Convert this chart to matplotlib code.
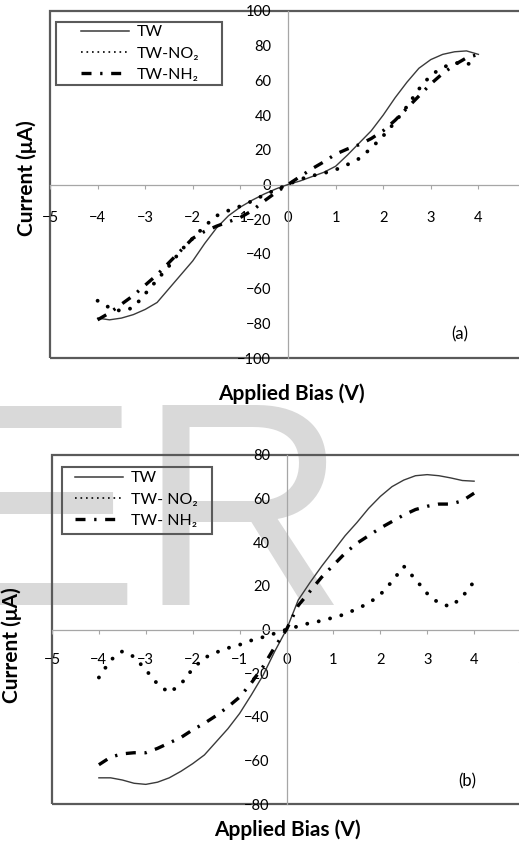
import matplotlib
matplotlib.use('Agg')
import matplotlib.pyplot as plt
from matplotlib.patches import Rectangle
from matplotlib.lines import Line2D

plt.rcParams['font.family'] = ['Lato', 'DejaVu Sans']

# bias points (V), shared by all curves
bias = [-4.0, -3.75, -3.5, -3.25, -3.0, -2.75, -2.5, -2.25, -2.0, -1.75, -1.5,
        -1.25, -1.0, -0.75, -0.5, -0.25, 0.0, 0.25, 0.5, 0.75, 1.0, 1.25, 1.5,
        1.75, 2.0, 2.25, 2.5, 2.75, 3.0, 3.25, 3.5, 3.75, 4.0]

# panel (a) currents (uA)
tw_a = [-77, -78, -77, -75, -72, -68, -60, -52, -44, -34, -25, -18, -13, -9, -5.5, -2.5,
        0, 2, 4.5, 7, 10.5, 17, 24, 31, 40, 50, 59, 67, 72, 75, 76.5, 77, 75]
no2_a = [-67, -71, -73, -71, -63, -55, -47, -38, -31, -24, -18, -15, -12.5, -9.5, -6, -3,
         0, 3, 5, 6.5, 8.5, 11.5, 15, 21, 28, 36, 45, 55, 63, 67.5, 70, 70, 67.5]
nh2_a = [-78, -74, -69, -64, -58, -52, -45, -38, -31, -27, -24, -21.5, -19, -15, -9.5, -4.5,
         0, 4.5, 9, 13, 17.5, 20.5, 23, 26.5, 31, 37, 44, 51, 58, 64, 69, 73, 75]

# panel (b) currents (uA)
tw_b = [-68, -68, -69, -70.5, -71, -70, -68, -65, -61.5, -57.5, -51.5, -45.5, -38.5, -30, -21, -10,
        0, 13.5, 21.5, 29, 36, 43, 49, 55.5, 61, 65.5, 68.5, 70.5, 71, 70.5, 69.5, 68.3, 68]
no2_b = [-22, -14, -10, -12.5, -18.5, -25, -29, -25, -18, -13, -10.5, -8.5, -7, -5, -3.5, -1.8,
         0, 1.5, 3, 4, 5.5, 7, 9.5, 12, 16, 22, 29, 23, 16.5, 12, 10.5, 15, 22]
nh2_b = [-62, -58.5, -57, -56.5, -56.5, -54.5, -52, -49.5, -46, -43, -39.5, -35.5, -31, -24.5, -17, -8,
         0, 11, 17.5, 24, 29.5, 35, 39.5, 43, 46.5, 49.5, 52.5, 55, 56.5, 57.5, 57.5, 59, 62.5]

xticks_a = [-5, -4, -3, -2, -1, 0, 1, 2, 3, 4]
xticks_b = [-5, -4, -3, -2, -1, 0, 1, 2, 3, 4, 5]
yticks_a = [-100, -80, -60, -40, -20, 0, 20, 40, 60, 80, 100]
yticks_b = [-80, -60, -40, -20, 0, 20, 40, 60, 80]

W, H = 519, 842
fig = plt.figure(figsize=(W / 100, H / 100), dpi=100)


def box(l, t, r, b):
    return [l / W, 1 - b / H, (r - l) / W, (b - t) / H]


# watermark behind everything
fig.text(-54 / W, 1 - 605 / H, 'ER', fontsize=208, color='#d9d9d9',
         family='Liberation Sans', ha='left', va='baseline', zorder=-1)

FRAME = '#5a5a5a'
ZERO = '#a6a6a6'
DASHDOT = (0, (3, 2.6, 0.7, 2.6))


def setup(ax, ylim, xticks, yticks, xpad):
    ax.set_facecolor('none')
    ax.set_xlim(-5, 5)
    ax.set_ylim(*ylim)
    ax.spines['top'].set_visible(False)
    ax.spines['right'].set_visible(False)
    ax.spines['left'].set_position(('data', 0))
    ax.spines['bottom'].set_position(('data', 0))
    for s in ['left', 'bottom']:
        ax.spines[s].set_color(ZERO)
        ax.spines[s].set_linewidth(0.9)
    ax.set_xticks(xticks)
    ax.set_yticks(yticks)
    ax.tick_params(axis='x', length=3, color=ZERO, pad=xpad, labelsize=10.5)
    ax.tick_params(axis='y', length=0, pad=12, labelsize=10.5)
    ax.add_patch(Rectangle((0, 0), 1, 1, transform=ax.transAxes, fill=False,
                           ec=FRAME, lw=1.6, clip_on=False, zorder=1))


def curves(ax, tw, no2, nh2):
    ax.plot(bias, tw, color='#3a3a3a', lw=1.0, zorder=3)
    ax.plot(bias, no2, color='black', lw=2.8, ls=(0, (0.01, 3.0)),
            dash_capstyle='round', zorder=3)
    ax.plot(bias, nh2, color='black', lw=2.4, ls=DASHDOT, zorder=3)


def legend(ax, labels, rect, anchor):
    handles = [Line2D([], [], color='#3a3a3a', lw=1.1),
               Line2D([], [], color='black', lw=1.2, ls=(0, (1, 2.3))),
               Line2D([], [], color='black', lw=2.4, ls=DASHDOT)]
    ax.legend(handles, labels, loc='upper left', bbox_to_anchor=anchor,
              frameon=False, borderpad=0, borderaxespad=0, fontsize=11.5,
              handlelength=3.0, handletextpad=0.5, labelspacing=0.45)
    l, t, r, b = rect
    ax.add_patch(Rectangle((l, b), r - l, t - b, transform=ax.transAxes,
                           fill=False, ec=FRAME, lw=1.5, zorder=4))


# ---- panel (a)
ax1 = fig.add_axes(box(50, 11, 526, 358))
setup(ax1, (-100, 100), xticks_a, yticks_a, 16)
curves(ax1, tw_a, no2_a, nh2_a)
legend(ax1, ['TW', 'TW-NO₂', 'TW-NH₂'],
       ((56 - 50) / 476, (358 - 22) / 347, (222 - 50) / 476, (358 - 85) / 347),
       ((81 - 50) / 476, (358 - 25) / 347))
ax1.text(0.861, 0.069, '(a)', transform=ax1.transAxes, ha='center', va='center', fontsize=12)
ax1.set_xlabel('Applied Bias (V)', fontsize=15, fontweight='bold')
ax1.xaxis.set_label_coords(0.508, -0.074)
ax1.set_ylabel('Current (μA)', fontsize=15, fontweight='bold')
ax1.yaxis.set_label_coords(-0.027, 0.519)

# ---- panel (b)
ax2 = fig.add_axes(box(52, 455, 521, 804))
setup(ax2, (-80, 80), xticks_b, yticks_b, 14)
curves(ax2, tw_b, no2_b, nh2_b)
legend(ax2, ['TW', 'TW- NO₂', 'TW- NH₂'],
       ((62 - 52) / 469, (804 - 467) / 349, (212 - 52) / 469, (804 - 534) / 349),
       ((75 - 52) / 469, (804 - 471) / 349))
ax2.text(0.885, 0.066, '(b)', transform=ax2.transAxes, ha='center', va='center', fontsize=12)
ax2.set_xlabel('Applied Bias (V)', fontsize=15, fontweight='bold')
ax2.xaxis.set_label_coords(0.503, -0.045)
ax2.set_ylabel('Current (μA)', fontsize=15, fontweight='bold')
ax2.yaxis.set_label_coords(-0.064, 0.456)

fig.savefig('out.png', dpi=100)
